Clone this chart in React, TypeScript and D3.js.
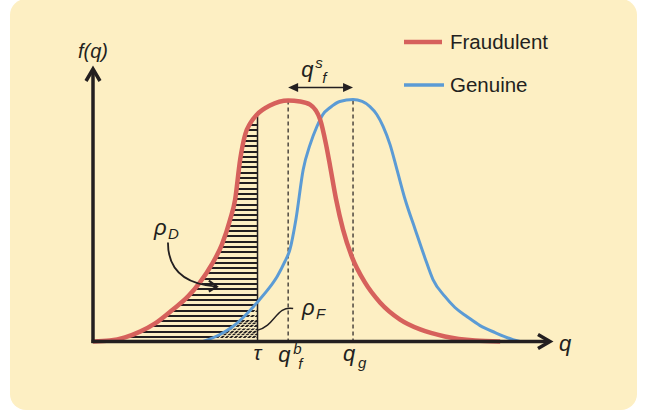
import React, { useEffect, useRef } from 'react';
import * as d3 from 'd3';

// curve samples (q on 0..100, f normalised to peak = 1)
const fraudQ = [0, 3.7, 7.0, 10.3, 13.6, 17.5, 20.8, 23.4, 26.0, 28.2, 30.0, 31.1, 32.2, 33.3, 34.4, 35.9, 38.7, 42.7, 45.3, 47.5, 49.7, 51.0, 51.9, 53.2, 54.7, 56.7, 59.5, 62.8, 67.2, 71.6, 77.0, 83.6, 89.1];
const fraudF = [0, 0.004, 0.017, 0.041, 0.075, 0.133, 0.187, 0.245, 0.32, 0.402, 0.506, 0.589, 0.755, 0.859, 0.905, 0.942, 0.979, 1.0, 0.996, 0.983, 0.921, 0.817, 0.726, 0.589, 0.465, 0.349, 0.245, 0.162, 0.091, 0.05, 0.021, 0.004, 0];

const genuineQ = [24.1, 27.8, 30.6, 33.3, 35.9, 38.3, 40.3, 42.0, 43.1, 44.4, 46.0, 47.5, 49.0, 50.3, 51.9, 54.0, 56.9, 58.9, 60.6, 62.1, 63.5, 65.0, 66.5, 68.3, 70.5, 72.6, 74.4, 77.0, 79.2, 81.8, 84.7, 88.0, 91.9, 93.4];
const genuineF = [0, 0.029, 0.062, 0.108, 0.162, 0.216, 0.27, 0.332, 0.382, 0.506, 0.714, 0.817, 0.892, 0.942, 0.971, 0.996, 1.004, 0.996, 0.975, 0.942, 0.892, 0.817, 0.714, 0.589, 0.465, 0.349, 0.257, 0.187, 0.141, 0.104, 0.066, 0.037, 0.008, 0];

const tau = 36;
const qbf = 42.7;
const qg = 56.9;

const seriesNames = ['Fraudulent', 'Genuine'];
const seriesColors = ['#d6615c', '#5b9bd5'];

// annotation arrows, in data units
const rhoDArrow = [[16.4, 0.411], [16.4, 0.299], [20.1, 0.237], [27.1, 0.228]];
const rhoFArrow = [[43.8, 0.137], [40.0, 0.149], [40.0, 0.066], [35.9, 0.046]];

const INK = '#231f20';
const BG = '#fdefc3';
const FONT = '"Liberation Sans", Arial, sans-serif';

const App = () => {
  const ref = useRef<SVGSVGElement | null>(null);

  useEffect(() => {
    drawChart();
  }, []);

  const drawChart = () => {
    const svg = d3.select(ref.current);
    svg.selectAll('*').remove();

    svg.append('rect')
      .attr('x', 10).attr('y', -1)
      .attr('width', 627).attr('height', 411)
      .attr('rx', 16)
      .attr('fill', BG);

    const x = d3.scaleLinear().domain([0, 100]).range([93, 550]);
    const y = d3.scaleLinear().domain([0, 1]).range([341.5, 100.5]);

    const fraud = fraudQ.map((q, i) => [q, fraudF[i]] as [number, number]);
    const genuine = genuineQ.map((q, i) => [q, genuineF[i]] as [number, number]);

    const line = d3.line<[number, number]>()
      .x(d => x(d[0]))
      .y(d => y(d[1]))
      .curve(d3.curveMonotoneX);

    const hatchG = svg.append('g');
    const defs = svg.append('defs');

    // dashed guides
    [qbf, qg].forEach(v => {
      svg.append('line')
        .attr('x1', x(v)).attr('x2', x(v))
        .attr('y1', y(1.0)).attr('y2', y(0))
        .attr('stroke', INK)
        .attr('stroke-width', 1.2)
        .attr('stroke-dasharray', '4,3');
    });

    // tau line
    svg.append('line')
      .attr('x1', x(tau)).attr('x2', x(tau))
      .attr('y1', y(0.935)).attr('y2', y(0))
      .attr('stroke', INK)
      .attr('stroke-width', 1.5);

    svg.append('path')
      .datum(genuine)
      .attr('d', line)
      .attr('fill', 'none')
      .attr('stroke', seriesColors[1])
      .attr('stroke-width', 3);

    const redPath = svg.append('path')
      .datum(fraud)
      .attr('d', line)
      .attr('fill', 'none')
      .attr('stroke', seriesColors[0])
      .attr('stroke-width', 4.5);

    // sample the red curve's rising side to place hatch lines
    const node = redPath.node() as SVGPathElement;
    const total = node.getTotalLength();
    const pts: { x: number; y: number }[] = [];
    for (let l = 0; l <= total; l += 0.5) {
      const p = node.getPointAtLength(l);
      if (p.x > x(qbf)) break;
      pts.push({ x: p.x, y: p.y });
    }
    const xAtY = (py: number) => {
      for (let i = 1; i < pts.length; i++) {
        const a = pts[i - 1], b = pts[i];
        if ((a.y - py) * (b.y - py) <= 0) {
          const t = a.y === b.y ? 0 : (py - a.y) / (b.y - a.y);
          return a.x + t * (b.x - a.x);
        }
      }
      return x(tau);
    };
    for (let k = 0; 337 - k * 5.3 >= 125; k++) {
      const py = Math.round(337 - k * 5.3);
      hatchG.append('line')
        .attr('x1', Math.max(xAtY(py), 130)).attr('x2', x(tau))
        .attr('y1', py).attr('y2', py)
        .attr('stroke', INK)
        .attr('stroke-width', 2);
    }

    // diagonal breaks where the genuine curve overlaps (rho_F)
    const area = d3.area<[number, number]>()
      .x(d => x(d[0]))
      .y0(y(0))
      .y1(d => y(d[1]))
      .curve(d3.curveMonotoneX);
    defs.append('clipPath').attr('id', 'underBlue')
      .append('path').datum(genuine).attr('d', area);
    defs.append('clipPath').attr('id', 'leftTau')
      .append('rect')
      .attr('x', 0).attr('y', 0)
      .attr('width', x(tau)).attr('height', y(0));
    const diag = hatchG.append('g').attr('clip-path', 'url(#leftTau)')
      .append('g').attr('clip-path', 'url(#underBlue)');
    for (let k = 0; k < 3; k++) {
      const py = Math.round(337 - k * 5.3) - 2.6;
      diag.append('line')
        .attr('x1', x(24)).attr('x2', x(tau))
        .attr('y1', py).attr('y2', py)
        .attr('stroke', INK)
        .attr('stroke-width', 1.6);
    }
    for (let sx = x(24) - 50; sx < x(tau); sx += 4.5) {
      diag.append('line')
        .attr('x1', sx).attr('y1', y(0))
        .attr('x2', sx + 45).attr('y2', y(0) - 45)
        .attr('stroke', BG)
        .attr('stroke-width', 1.1);
    }

    // axes
    const axisG = svg.append('g')
      .attr('stroke', INK)
      .attr('fill', 'none')
      .attr('stroke-width', 3.5);
    axisG.append('line')
      .attr('x1', x(0)).attr('x2', x(0))
      .attr('y1', y(0) + 1.5).attr('y2', 70);
    axisG.append('polyline')
      .attr('points', `${x(0) - 7},81 ${x(0)},69 ${x(0) + 7},81`);
    axisG.append('line')
      .attr('x1', x(0) - 1.5).attr('x2', 548)
      .attr('y1', y(0)).attr('y2', y(0));
    axisG.append('polyline')
      .attr('points', `538,${y(0) - 7} 550,${y(0)} 538,${y(0) + 7}`);

    // double arrow q^s_f
    const ya = y(1.054);
    svg.append('line')
      .attr('x1', x(qbf) + 4).attr('x2', x(qg) - 4)
      .attr('y1', ya).attr('y2', ya)
      .attr('stroke', INK).attr('stroke-width', 1.4);
    [[x(qbf), 1], [x(qg), -1]].forEach(([px, dir]) => {
      svg.append('path')
        .attr('d', `M${px},${ya} L${px + dir * 10},${ya - 4.5} L${px + dir * 10},${ya + 4.5} Z`)
        .attr('fill', INK);
    });

    // annotation arrows
    const curvePath = (p: number[][]) =>
      `M${x(p[0][0])},${y(p[0][1])} C${x(p[1][0])},${y(p[1][1])} ${x(p[2][0])},${y(p[2][1])} ${x(p[3][0])},${y(p[3][1])}`;
    svg.append('path')
      .attr('d', curvePath(rhoDArrow))
      .attr('fill', 'none').attr('stroke', INK).attr('stroke-width', 1.8);
    const ex = x(rhoDArrow[3][0]), ey = y(rhoDArrow[3][1]);
    svg.append('polyline')
      .attr('points', `${ex - 8},${ey - 6} ${ex},${ey} ${ex - 8},${ey + 5}`)
      .attr('fill', 'none').attr('stroke', INK).attr('stroke-width', 2.2);
    svg.append('path')
      .attr('d', curvePath(rhoFArrow))
      .attr('fill', 'none').attr('stroke', INK).attr('stroke-width', 1.4);

    // text
    const text = (tx: number, ty: number, s: string, size: number, italic = true, anchor = 'start') =>
      svg.append('text')
        .attr('x', tx).attr('y', ty)
        .attr('font-family', FONT)
        .attr('font-size', size)
        .attr('font-style', italic ? 'italic' : 'normal')
        .attr('text-anchor', anchor)
        .attr('fill', INK)
        .text(s);

    text(x(0), 58, 'f(q)', 20, true, 'middle');
    text(559, 351, 'q', 22);
    text(x(tau), 360, 'τ', 21, true, 'middle');
    text(x(qbf) - 10, 362, 'q', 22);
    text(x(qbf) + 5, 354, 'b', 15);
    text(x(qbf) + 10, 369, 'f', 15);
    text(x(qg) - 10, 361, 'q', 22);
    text(x(qg) + 5, 368, 'g', 15);
    text(x(qbf) + 13, 77, 'q', 22);
    text(x(qbf) + 27, 68, 's', 15);
    text(x(qbf) + 34, 83, 'f', 15);
    text(154, 235, 'ρ', 22);
    text(168, 239, 'D', 15);
    text(302, 315, 'ρ', 22);
    text(316, 319, 'F', 15);

    // legend
    seriesNames.forEach((name, i) => {
      const ly = 42 + i * 43;
      svg.append('line')
        .attr('x1', 404).attr('x2', 442 + i * 2)
        .attr('y1', ly).attr('y2', ly)
        .attr('stroke', seriesColors[i])
        .attr('stroke-width', i === 0 ? 4.5 : 3.5);
      text(450, ly + 7, name, 20.5, false);
    });
  };

  return (
    <svg ref={ref} width={647} height={413}
      style={{ position: 'absolute', left: 0, top: 0, background: '#fff' }} />
  );
};

export default App;
